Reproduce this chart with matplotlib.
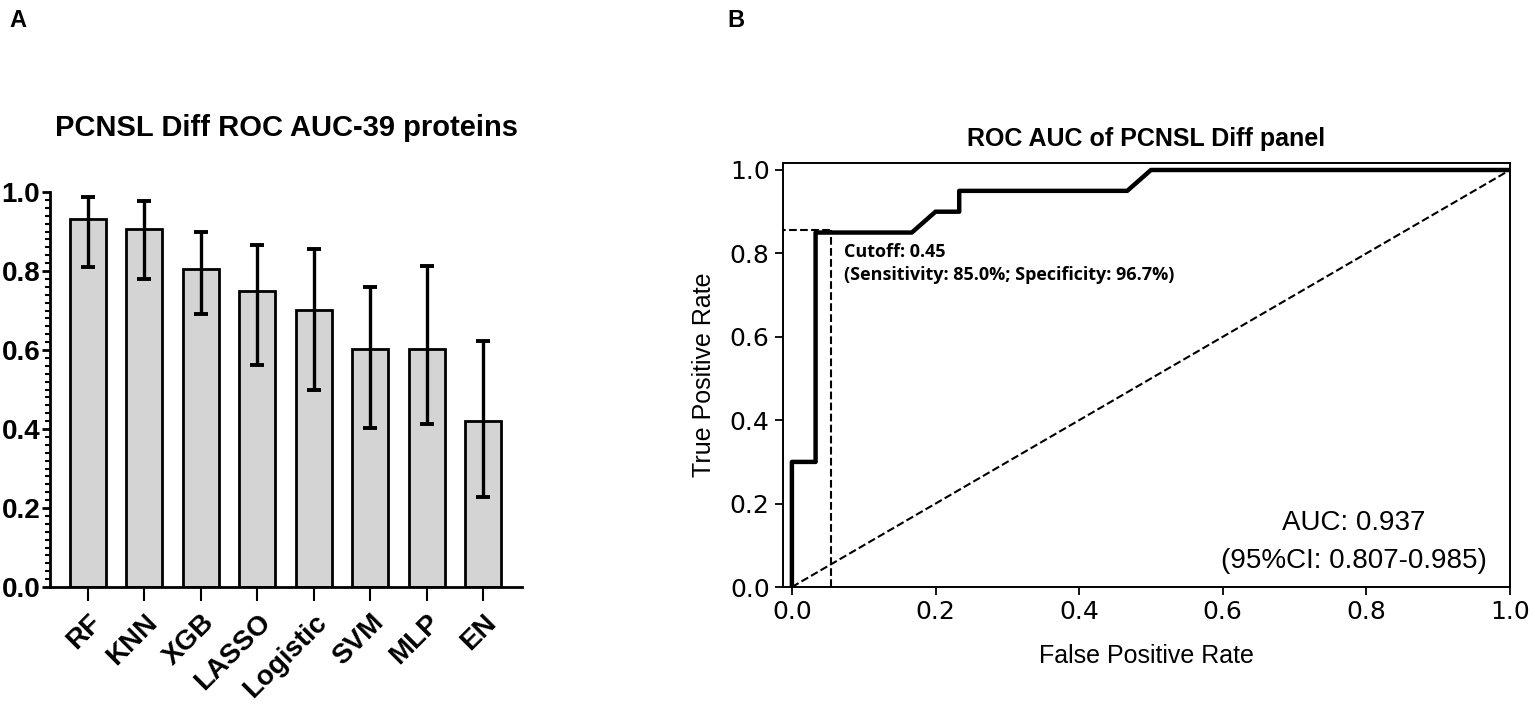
import matplotlib
matplotlib.use('Agg')
import matplotlib.pyplot as plt
from matplotlib.ticker import MultipleLocator

plt.rcParams['font.family'] = ['Liberation Sans', 'DejaVu Sans']

# Panel A data
models = ['RF', 'KNN', 'XGB', 'LASSO', 'Logistic', 'SVM', 'MLP', 'EN']
auc_mean = [0.932, 0.906, 0.805, 0.749, 0.701, 0.602, 0.602, 0.421]
auc_low = [0.811, 0.779, 0.691, 0.562, 0.499, 0.402, 0.413, 0.229]
auc_high = [0.988, 0.977, 0.898, 0.866, 0.856, 0.759, 0.813, 0.624]

# Panel B data (ROC curve)
fpr = [0.0, 0.0, 0.033, 0.033, 0.167, 0.2, 0.233, 0.233, 0.467, 0.5, 1.0]
tpr = [0.0, 0.3, 0.3, 0.85, 0.85, 0.9, 0.9, 0.95, 0.95, 1.0, 1.0]
cutoff_fpr = 0.054
cutoff_tpr = 0.855

fig = plt.figure(figsize=(15.35, 7.13), dpi=100)

# ---------------- Panel A ----------------
ax1 = fig.add_axes([0.0326, 0.1767, 0.3075, 0.554])
x = list(range(len(models)))
yerr = [[m - lo for m, lo in zip(auc_mean, auc_low)],
        [hi - m for m, hi in zip(auc_mean, auc_high)]]
ax1.bar(x, auc_mean, width=0.64, color='#d4d4d4', edgecolor='black',
        linewidth=2.0, zorder=2)
ax1.errorbar(x, auc_mean, yerr=yerr, fmt='none', ecolor='black',
             elinewidth=2.4, capsize=5, capthick=2.8, zorder=3)
ax1.set_xlim(-0.67, 7.69)
ax1.set_ylim(0, 1.0)
ax1.set_xticks(x)
ax1.set_xticklabels(models, rotation=45, ha='right', rotation_mode='anchor',
                    fontsize=20, fontweight='bold')
ax1.set_yticks([0.0, 0.2, 0.4, 0.6, 0.8, 1.0])
ax1.set_yticklabels(['0.0', '0.2', '0.4', '0.6', '0.8', '1.0'],
                    fontsize=20, fontweight='bold')
ax1.yaxis.set_minor_locator(MultipleLocator(0.02))
ax1.tick_params(axis='y', which='major', length=6, width=2, pad=1)
ax1.tick_params(axis='y', which='minor', length=3.5, width=1.5)
ax1.tick_params(axis='x', which='major', length=10, width=1.5, pad=6)
ax1.spines['top'].set_visible(False)
ax1.spines['right'].set_visible(False)
ax1.spines['left'].set_linewidth(2)
ax1.spines['bottom'].set_linewidth(2)
ax1.set_title('PCNSL Diff ROC AUC-39 proteins', fontsize=21,
              fontweight='bold', pad=40)

# ---------------- Panel B ----------------
ax2 = fig.add_axes([0.510, 0.1767, 0.4737, 0.5947])
ax2.plot(fpr, tpr, color='black', linewidth=3.2, zorder=3)
ax2.plot([0, 1], [0, 1], color='black', linestyle='--', linewidth=1.5)
ax2.plot([-0.02, cutoff_fpr], [cutoff_tpr, cutoff_tpr], color='black',
         linestyle='--', linewidth=1.5)
ax2.plot([cutoff_fpr, cutoff_fpr], [0, cutoff_tpr], color='black',
         linestyle='--', linewidth=1.5)
ax2.set_xlim(-0.0126, 1.0)
ax2.set_ylim(0, 1.0168)
ax2.set_xticks([0.0, 0.2, 0.4, 0.6, 0.8, 1.0])
ax2.set_yticks([0.0, 0.2, 0.4, 0.6, 0.8, 1.0])
ax2.tick_params(labelsize=18, length=6, width=1.3)
for lab in ax2.get_xticklabels() + ax2.get_yticklabels():
    lab.set_family('DejaVu Sans')
for sp in ax2.spines.values():
    sp.set_linewidth(1.4)
ax2.set_xlabel('False Positive Rate', fontsize=18, labelpad=14)
ax2.set_ylabel('True Positive Rate', fontsize=18, labelpad=10)
ax2.set_title('ROC AUC of PCNSL Diff panel', fontsize=18,
              fontweight='bold', pad=12)

ax2.text(0.072, 0.791, 'Cutoff: 0.45', fontsize=13, fontweight='bold',
         family=['Open Sans', 'DejaVu Sans'], va='baseline')
ax2.text(0.072, 0.736, '(Sensitivity: 85.0%; Specificity: 96.7%)',
         fontsize=13, fontweight='bold',
         family=['Open Sans', 'DejaVu Sans'], va='baseline')
ax2.text(0.782, 0.137, 'AUC: 0.937', fontsize=20, ha='center',
         va='baseline')
ax2.text(0.782, 0.046, '(95%CI: 0.807-0.985)', fontsize=20, ha='center',
         va='baseline')

fig.text(0.006, 0.962, 'A', fontsize=17, fontweight='bold')
fig.text(0.474, 0.962, 'B', fontsize=17, fontweight='bold')

fig.savefig('out.png', dpi=100)
